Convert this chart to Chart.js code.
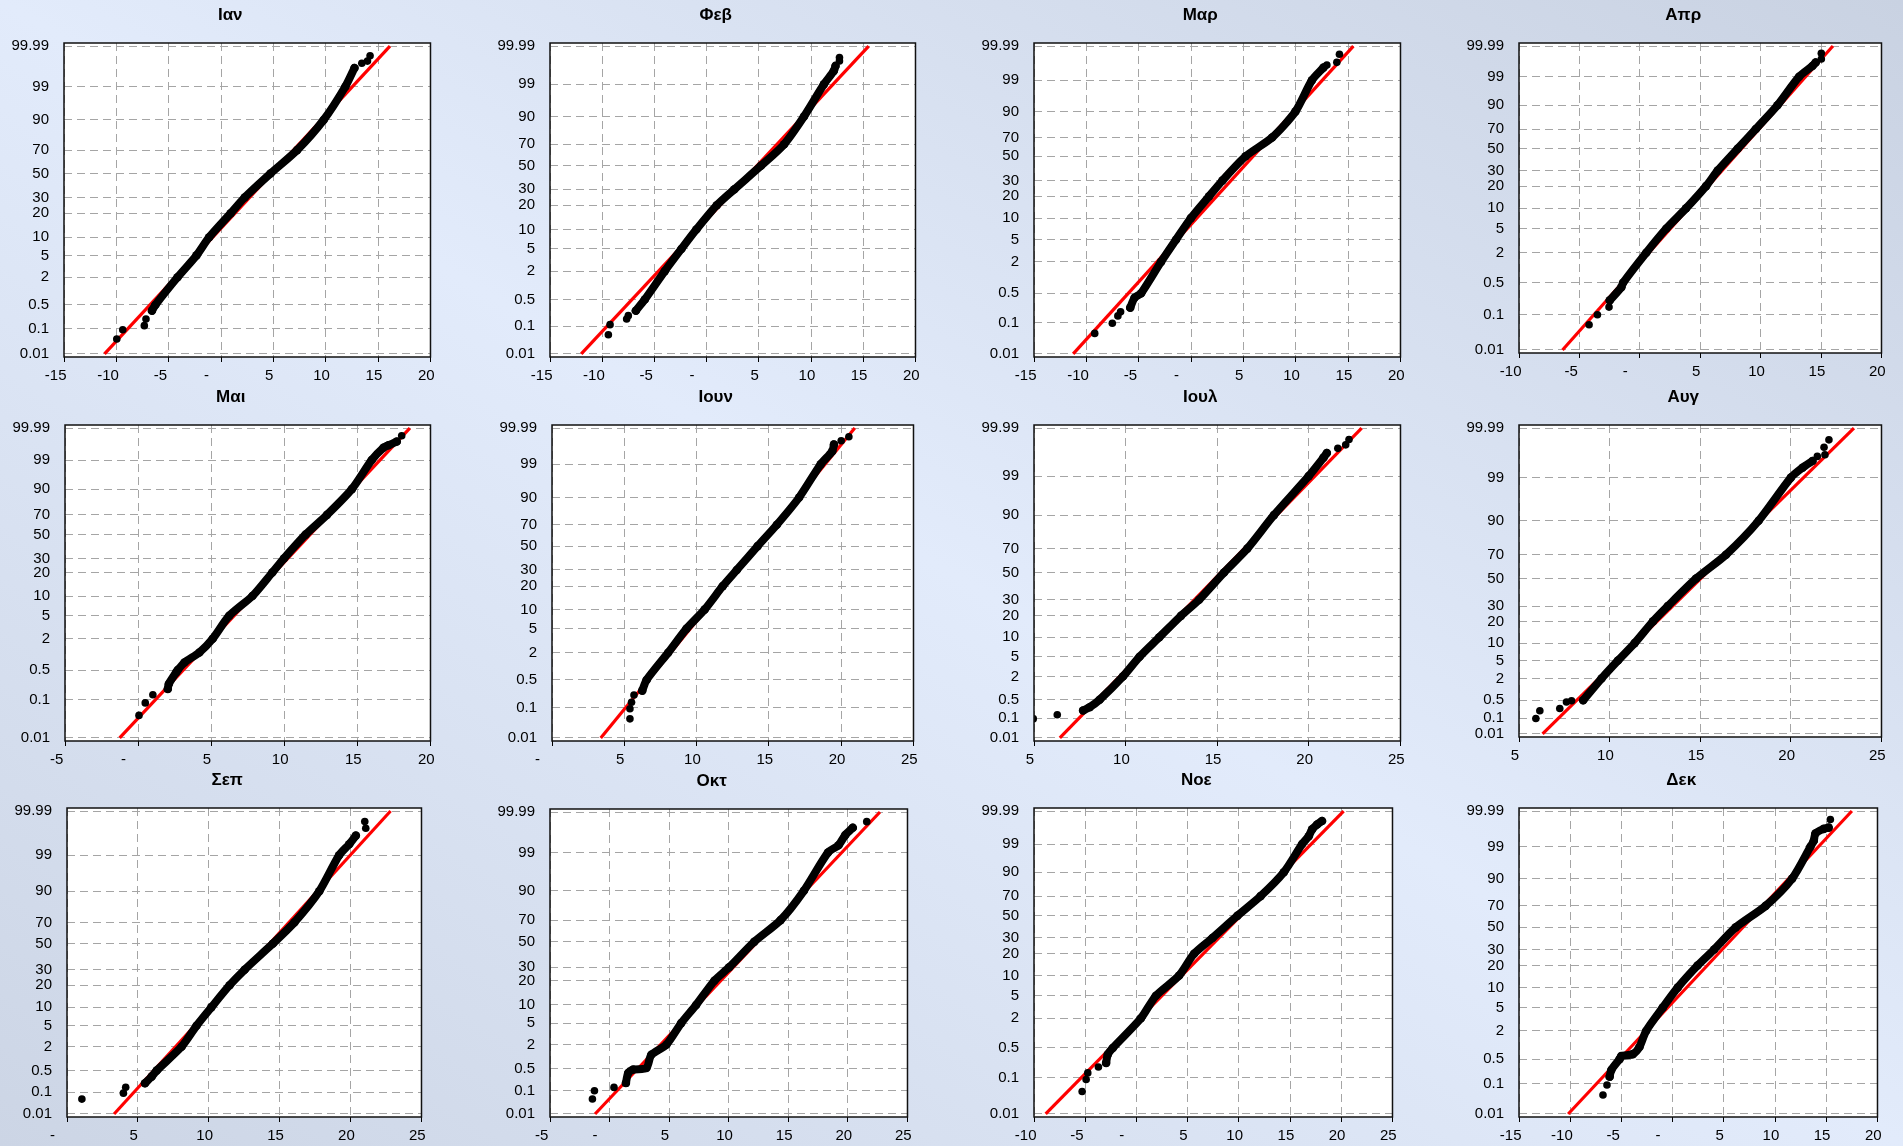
<!DOCTYPE html>
<html><head><meta charset="utf-8">
<script src="https://cdn.jsdelivr.net/npm/chart.js@4.4.0/dist/chart.umd.min.js"></script>
<style>
html,body{margin:0;padding:0;}
body{width:1903px;height:1146px;overflow:hidden;position:relative;
background:linear-gradient(to top right,#ccd5e5 0%,#e2ebfb 50%,#c9d2e2 100%);}
canvas{position:absolute;}
</style></head><body>
<script>
// ---------------- DATA ----------------
const months = ['Ιαν','Φεβ','Μαρ','Απρ','Μαι','Ιουν','Ιουλ','Αυγ','Σεπ','Οκτ','Νοε','Δεκ'];
// cumulative probability (%) tick labels of the probability axis
const probTicks = [0.01,0.1,0.5,2,5,10,20,30,50,70,90,99,99.99];
const tickText  = ['0.01','0.1','0.5','2','5','10','20','30','50','70','90','99','99.99'];
// x-axis ranges
const xMinArr = [-15,-15,-15,-10,-5,0,5,5,0,-5,-10,-15];
const xMaxArr = [20,20,20,20,20,25,25,25,25,25,25,20];
// fitted (red) line: x at 0.01% and at 99.99%
const fitLow  = [-11.13,-12.01,-11.26,-6.4,-1.26,3.37,6.41,6.3,3.32,-1.22,-8.86,-10.2];
const fitHigh = [16.13,15.52,15.5,15.98,18.59,20.94,22.88,23.48,22.82,22.69,20.23,17.5];

// dense sample band: [x, cumulative %]
const janBand = [[-6.6,0.34],[-6.28,0.5],[-4.16,2],[-2.35,5],[-1.14,10],[0.92,20],[2.25,30],[4.72,50],[7.26,70],[9.79,90],[11.86,99],[12.74,99.88]];
const febBand = [[-6.78,0.254],[-5.92,0.5],[-4.01,2],[-2.42,5],[-0.99,10],[0.97,20],[2.66,30],[5.2,50],[7.42,70],[9.32,90],[11.23,99],[12.18,99.8],[12.34,99.89]];
const marBand = [[-5.81,0.227],[-5.4,0.39],[-4.77,0.5],[-2.87,2],[-1.44,5],[-0.02,10],[1.72,20],[2.99,30],[5.21,50],[7.74,70],[9.96,90],[11.54,99],[12.65,99.82]];
const aprBand = [[-2.49,0.206],[-1.53,0.4],[-1.39,0.5],[0.53,2],[2.18,5],[3.83,10],[5.48,20],[6.44,30],[8.09,50],[9.6,70],[11.39,90],[13.18,99],[14.28,99.8],[14.55,99.88]];
const mayBand = [[2.03,0.18],[2.1,0.236],[2.6,0.44],[2.71,0.5],[3.17,0.7],[4.19,1.09],[5.1,2],[6.23,5],[7.82,10],[9.18,20],[9.97,30],[11.45,50],[12.92,70],[14.62,90],[15.98,99],[16.78,99.83],[17.12,99.88],[17.69,99.93]];
const junBand = [[6.24,0.27],[6.54,0.5],[8.03,2],[9.29,5],[10.55,10],[11.81,20],[12.78,30],[14.22,50],[15.55,70],[17.09,90],[18.58,99],[19.38,99.81],[19.5,99.92]];
const julBand = [[7.68,0.196],[8.04,0.26],[8.58,0.5],[9.85,2],[10.76,5],[11.84,10],[13.02,20],[14.01,30],[15.37,50],[16.64,70],[18.09,90],[19.99,99],[20.8,99.83],[20.98,99.89]];
const augBand = [[8.54,0.5],[9.55,2],[10.46,5],[11.38,10],[12.39,20],[13.21,30],[14.77,50],[16.42,70],[18.22,90],[20.0,99],[20.64,99.6],[21.19,99.785]];
const sepBand = [[5.5,0.195],[5.97,0.32],[6.32,0.5],[8.08,2],[9.13,5],[10.18,10],[11.47,20],[12.52,30],[14.51,50],[16.03,70],[17.79,90],[19.19,99],[19.9,99.68],[20.37,99.87]];
const octBand = [[1.37,0.177],[1.56,0.37],[1.98,0.48],[3.09,0.53],[3.5,1.13],[4.76,2],[6.01,5],[7.26,10],[8.79,20],[10.04,30],[12.13,50],[14.35,70],[16.3,90],[18.33,99],[19.21,99.56],[19.77,99.86],[20.41,99.94]];
const novBand = [[-2.96,0.224],[-2.8,0.35],[-2.31,0.5],[0.44,2],[1.9,5],[4.17,10],[5.63,20],[7.42,30],[9.85,50],[12.12,70],[14.39,90],[16.18,99],[16.82,99.66],[17.15,99.87],[17.64,99.935],[18.12,99.96]];
const decBand = [[-6.15,0.16],[-5.99,0.246],[-5.18,0.5],[-5.02,0.58],[-3.89,0.64],[-3.24,0.91],[-2.59,2],[-0.97,5],[0.49,10],[2.43,20],[4.05,30],[6.16,50],[9.08,70],[11.67,90],[13.45,99],[13.78,99.54],[13.94,99.82],[14.75,99.9],[15.23,99.915]];

// isolated tail points: [x, cumulative %]
const janDots = [[-9.96,0.039],[-9.39,0.091],[-7.33,0.123],[-7.17,0.193],[13.44,99.93],[13.98,99.945],[14.23,99.97]];
const febDots = [[-9.41,0.049],[-9.25,0.11],[-7.66,0.154],[-7.5,0.189],[12.72,99.94],[12.72,99.96]];
const marDots = [[-9.2,0.045],[-7.52,0.095],[-6.99,0.144],[-6.73,0.18],[12.97,99.87],[13.92,99.91],[14.17,99.97]];
const aprDots = [[-4.2,0.052],[-3.51,0.1],[-2.55,0.147],[15.02,99.93],[15.02,99.97]];
const mayDots = [[0.06,0.039],[0.49,0.083],[1.01,0.131],[18.03,99.97]];
const junDots = [[5.39,0.043],[5.39,0.093],[5.5,0.138],[5.67,0.211],[20.0,99.95],[20.53,99.97]];
const julDots = [[4.96,0.093],[6.27,0.134],[21.58,99.93],[22.01,99.95],[22.19,99.97]];
const augDots = [[5.93,0.098],[6.15,0.196],[7.25,0.24],[7.62,0.43],[7.9,0.48],[21.46,99.86],[21.88,99.88],[21.83,99.94],[22.1,99.97]];
const sepDots = [[1.05,0.048],[3.98,0.09],[4.14,0.145],[21.07,99.94],[21.0,99.97]];
const octDots = [[-1.44,0.044],[-1.27,0.1],[0.37,0.128],[21.58,99.97]];
const novDots = [[-5.3,0.042],[-4.91,0.09],[-4.75,0.131],[-3.71,0.18]];
const decDots = [[-6.8,0.043],[-6.41,0.093],[15.4,99.97]];

// ---------------- PROBABILITY AXIS CALIBRATION (axis units 0..100 of each tick label) ----------------
const axisJan = [0,8.2,15.9,24.9,32.0,37.9,45.7,50.8,58.6,66.2,76.0,86.8,100];
const axisFeb = [0,9.0,17.7,26.9,34.1,40.4,48.3,53.5,61.1,68.1,77.1,87.6,100];
const axisMar = [0,10.2,19.7,29.9,37.1,44.1,51.2,56.3,64.2,70.3,78.7,88.9,100];
const axisApr = [0,11.6,22.1,32.0,39.9,46.6,53.9,59.0,66.2,72.7,80.5,89.9,100];
const axisMay = [0,12.3,21.9,32.0,39.4,45.8,53.4,57.9,65.6,72.0,80.3,89.7,100];
const axisJun = [0,9.7,18.7,27.5,35.2,41.4,49.0,54.2,61.9,68.8,77.6,88.3,100];
const axisJul = [0,6.4,12.3,19.8,26.2,32.5,39.4,44.6,53.4,61.1,71.9,84.5,100];
const axisAug = [0,5.1,11.0,18.1,24.0,29.7,36.8,41.8,50.8,58.6,69.7,83.8,100];
const axisSep = [0,7.2,14.3,22.2,29.1,35.2,42.5,47.6,56.2,63.2,73.5,85.4,100];
const axisOct = [0,7.7,14.9,22.9,30.1,36.1,44.1,48.6,57.0,64.2,73.9,86.6,100];
const axisNov = [0,11.9,21.8,31.6,39.0,45.7,52.9,58.1,65.4,71.9,79.8,89.1,100];
const axisDec = [0,9.9,18.1,27.4,35.1,41.7,49.0,54.3,61.6,68.7,77.7,88.2,100];

// ---------------- LAYOUT ----------------
const frames = [
 [64,432,43,357],[550,917,43,357],[1034,1402,43,357],[1519,1883,43,353],
 [65,432,425,741],[552,915,425,741],[1034,1402,425,741],[1519,1883,425,737],
 [67,423,808,1117],[550,909,809,1117],[1034,1394,808,1117],[1519,1879,808,1117]];

const bands = [janBand,febBand,marBand,aprBand,mayBand,junBand,julBand,augBand,sepBand,octBand,novBand,decBand];
const dotsAll = [janDots,febDots,marDots,aprDots,mayDots,junDots,julDots,augDots,sepDots,octDots,novDots,decDots];
const axes = [axisJan,axisFeb,axisMar,axisApr,axisMay,axisJun,axisJul,axisAug,axisSep,axisOct,axisNov,axisDec];

function logit(p){ return Math.log(p/(100-p)); }
function toUnit(p, cal){
  const t = logit(p);
  let i = 0;
  while (i < probTicks.length-2 && t > logit(probTicks[i+1])) i++;
  const t0 = logit(probTicks[i]), t1 = logit(probTicks[i+1]);
  return cal[i] + (t-t0)/(t1-t0)*(cal[i+1]-cal[i]);
}

const FONT = "'Liberation Sans', Arial, sans-serif";
const decor = {
  id:'decor',
  beforeDraw(chart){
    const a = chart.chartArea, c = chart.ctx;
    c.save(); c.fillStyle = '#ffffff';
    c.fillRect(a.left, a.top, a.right-a.left, a.bottom-a.top); c.restore();
  },
  afterDraw(chart, args, opts){
    const a = chart.chartArea, c = chart.ctx;
    c.save();
    c.strokeStyle = '#111'; c.lineWidth = 1.5;
    c.strokeRect(a.left, a.top, a.right-a.left, a.bottom-a.top);
    c.fillStyle = '#000'; c.font = 'bold 17px ' + FONT;
    c.textAlign = 'center'; c.textBaseline = 'middle';
    c.fillText(opts.title, (a.left+a.right)/2 - 17, a.top - 28);
    c.restore();
  }
};

const padL = 64, padT = 44, padR = 16, padB = 32;
months.forEach((m, i) => {
  const [L,R,T,B] = frames[i];
  const cv = document.createElement('canvas');
  cv.width = R-L+padL+padR; cv.height = B-T+padT+padB;
  cv.style.left = (L-padL)+'px'; cv.style.top = (T-padT)+'px';
  cv.style.width = cv.width+'px'; cv.style.height = cv.height+'px';
  document.body.appendChild(cv);
  const cal = axes[i];
  const pt = ([x,p]) => ({x:x, y:toUnit(p, cal)});
  new Chart(cv.getContext('2d'), {
    type:'scatter',
    data:{datasets:[
      {data:bands[i].map(pt), showLine:true, borderColor:'#000', borderWidth:8, tension:0.25,
       borderCapStyle:'round', borderJoinStyle:'round', pointRadius:4.3,
       pointBackgroundColor:'#000', pointBorderWidth:0, order:0},
      {data:dotsAll[i].map(pt), showLine:false, pointRadius:3.8,
       pointBackgroundColor:'#000', pointBorderWidth:0, order:1},
      {data:[pt([fitLow[i],0.01]), pt([fitHigh[i],99.99])], showLine:true,
       borderColor:'#ff0000', borderWidth:3.2, pointRadius:0, order:2}
    ]},
    options:{
      responsive:false, animation:false, events:[], devicePixelRatio:1,
      layout:{padding:{left:0, top:padT, right:padR, bottom:0}},
      plugins:{legend:{display:false}, tooltip:{enabled:false}, decor:{title:m}},
      scales:{
        x:{type:'linear', min:xMinArr[i], max:xMaxArr[i],
           afterFit:s=>{s.height=padB;},
           ticks:{stepSize:5, color:'#000', font:{family:FONT, size:15}, padding:5,
                  maxRotation:0, autoSkip:false,
                  callback:v=> v===0 ? '-       ' : (v<0 ? String(v)+'    ' : String(v)+'  ')},
           grid:{color:'#a5a5a5', lineWidth:1, tickColor:'#000', tickLength:5},
           border:{display:false, dash:[8,5]}},
        y:{type:'linear', min:-1, max:101,
           afterFit:s=>{s.width=padL;},
           afterBuildTicks:s=>{s.ticks = cal.map(v=>({value:v}));},
           ticks:{color:'#000', font:{family:FONT, size:15}, padding:15, autoSkip:false,
                  callback:(v,idx)=>tickText[idx]},
           grid:{color:'#a5a5a5', lineWidth:1, drawTicks:false},
           border:{display:false, dash:[8,5]}}
      }
    },
    plugins:[decor]
  });
});
</script></body></html>
